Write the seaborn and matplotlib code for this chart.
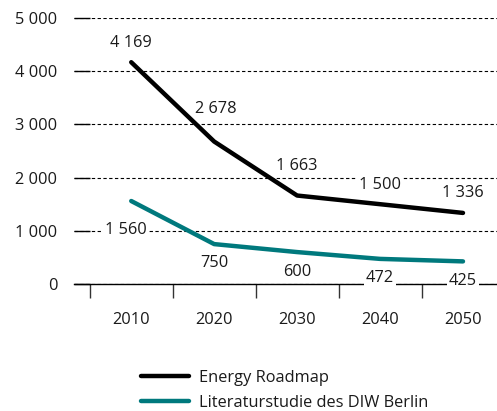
import matplotlib.pyplot as plt
import pandas as pd
import seaborn as sns

years = [2010, 2020, 2030, 2040, 2050]
roadmap = [4169, 2678, 1663, 1500, 1336]
diw = [1560, 750, 600, 472, 425]
series_names = ['Energy Roadmap', 'Literaturstudie des DIW Berlin']
colors = ['#000000', '#00797d']

df = pd.concat([
    pd.DataFrame({'year': years, 'value': roadmap, 'series': series_names[0]}),
    pd.DataFrame({'year': years, 'value': diw, 'series': series_names[1]}),
])

sns.set_style('white')
plt.rcParams['font.family'] = ['Open Sans', 'DejaVu Sans']
fs = 11.8

fig = plt.figure(figsize=(4.97, 4.11), dpi=100)
ax = fig.add_axes([74 / 497, 1 - 284 / 411, 1 - 74 / 497, (284 - 18) / 411])

sns.lineplot(data=df, x='year', y='value', hue='series', palette=colors,
             linewidth=3.2, ax=ax, legend=False, zorder=5,
             solid_capstyle='round', solid_joinstyle='round')

ax.set_xlim(2003.1, 2054.1)
ax.set_ylim(0, 5000)
ax.set_yticks(range(0, 5001, 1000))
ax.set_yticklabels(['0', '1 000', '2 000', '3 000', '4 000', '5 000'])
ax.set_xticks(years)
ax.set_xticks([y - 5 for y in years], minor=True)
ax.set_xlabel('')
ax.set_ylabel('')

ax.grid(axis='y', color='black', linewidth=0.8, linestyle=(0, (3, 2.2)))
ax.grid(axis='x', visible=False)
ax.set_axisbelow(True)
for s in ['top', 'right', 'left']:
    ax.spines[s].set_visible(False)
ax.spines['bottom'].set_color('black')
ax.spines['bottom'].set_linewidth(1.0)
ax.spines['bottom'].set_zorder(2)

ax.tick_params(axis='y', left=True, direction='in', length=11.5, width=1,
               color='black', pad=12, labelcolor='#1a1a1a', labelsize=fs)
ax.tick_params(axis='x', which='major', bottom=True, length=0, pad=20,
               labelcolor='#1a1a1a', labelsize=fs)
ax.tick_params(axis='x', which='minor', bottom=True, direction='out',
               length=10, width=1, color='#333333')

box = dict(facecolor='white', edgecolor='none', pad=1.5)
# black series labels above the points
offsets_top = [(0, 19), (2, 33), (0, 30), (0, 19), (0, 20)]
for yr, v, (dx, dy) in zip(years, roadmap, offsets_top):
    ax.annotate(f'{v:,}'.replace(',', ' '), (yr, v), xytext=(dx, dy),
                textcoords='offset pixels', ha='center', va='center',
                fontsize=fs, color='#1a1a1a', bbox=box, zorder=3)
# teal series labels
offsets_bot = [(-5, -29), (0, -19), (0, -20), (0, -19), (0, -20)]
for yr, v, (dx, dy) in zip(years, diw, offsets_bot):
    ax.annotate(f'{v:,}'.replace(',', ' '), (yr, v), xytext=(dx, dy),
                textcoords='offset pixels', ha='center', va='center',
                fontsize=fs, color='#1a1a1a', bbox=box, zorder=3,
                annotation_clip=False)

handles = [plt.Line2D([], [], color=c, linewidth=3.2, solid_capstyle='round')
           for c in colors]
fig.legend(handles, series_names, loc='upper left',
           bbox_to_anchor=(133 / 497, 1 - 362 / 411), frameon=False,
           fontsize=fs, handlelength=2.9, handletextpad=0.65,
           labelspacing=0.52, borderpad=0, labelcolor='#1a1a1a')

fig.savefig('out.png', dpi=100)
